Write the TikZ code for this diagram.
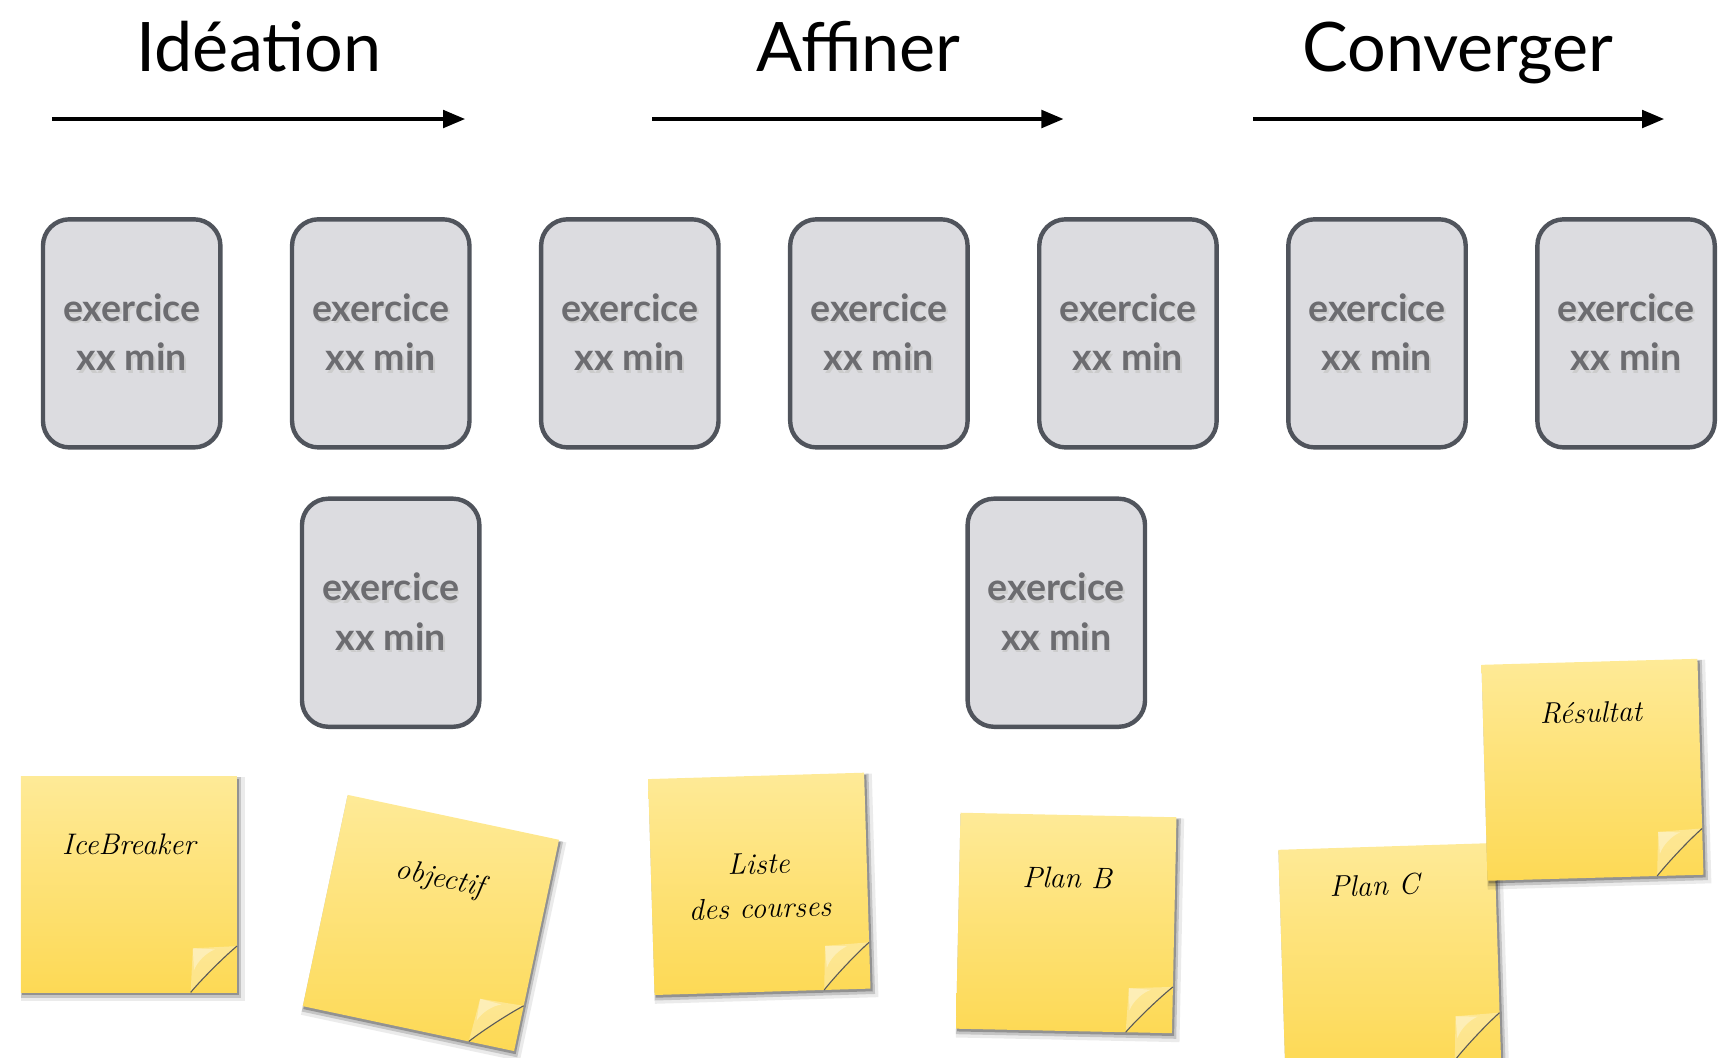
\documentclass[tikz,border=0pt]{standalone}
\usepackage{fontspec}
\newfontfamily\gillfont{Lato}
\usetikzlibrary{arrows.meta}
\definecolor{boxline}{HTML}{50545C}
\definecolor{boxfill}{HTML}{DCDCE0}
\definecolor{boxtext}{HTML}{6C6C70}
\definecolor{noteTop}{HTML}{FEEA97}
\definecolor{noteBot}{HTML}{FDD955}
\newcommand\shtxt[1]{\makebox[0pt][l]{\hspace{1.5pt}\raisebox{-2.5pt}{\color{black!20}#1}}#1}
\tikzset{
  title/.style={font=\gillfont\fontsize{62}{70}\selectfont, anchor=base, inner sep=0pt},
  phase/.style={line width=3pt, -{Triangle[length=20pt,width=16pt]}},
  exbox/.style={draw=boxline, line width=4pt, fill=boxfill, rounded corners=24pt,
    minimum width=161pt, minimum height=207pt, inner sep=0pt, text=boxtext,
    font=\gillfont\bfseries\fontsize{34}{45}\selectfont, align=center},
  notetext/.style={font=\itshape\fontsize{27}{40}\selectfont, align=center, inner sep=0pt, text=black}
}
\newcommand\stickynote[6]{% name, x, y, angle, text position, text
  \begin{scope}[shift={(#2,#3)}, rotate=#4]
    \fill[black,opacity=.08] (-98,-97) rectangle (105,106);
    \fill[black,opacity=.16] (-98,-97) rectangle (102,103);
    \fill[black,opacity=.26] (-97,-96) rectangle (100,100.5);
    \shade[top color=noteTop, bottom color=noteBot] (-98,-98) rectangle (98,98);
    \fill[white,opacity=.30] (56,98) -- (58,58) -- (98,56) .. controls (86,66) and (66,86) .. cycle;
    \fill[white,opacity=.35] (58,58) -- (78,59) .. controls (70,62) and (62,70) .. (59,78) -- cycle;
    \draw[black!65, line width=1pt] (56,98) .. controls (66,86) and (86,66) .. (98,56);
    \node[notetext, transform shape] (#1) at #5 {#6};
  \end{scope}}
\begin{document}
\begin{tikzpicture}[x=1pt,y=-1pt]
\useasboundingbox (0,0) rectangle (1568,960);
\clip (0,0) rectangle (1568,960);
% titles
\node[title] (t1) at (235,65) {Idéation};
\node[title] (t2) at (779,65) {Affiner};
\node[title] (t3) at (1323,65) {Converger};
% arrows
\coordinate (a1s) at (47,108);  \coordinate (a1e) at (422,108);
\coordinate (a2s) at (592,108); \coordinate (a2e) at (965,108);
\coordinate (a3s) at (1137,108);\coordinate (a3e) at (1510,108);
\draw[phase] (a1s) -- (a1e);
\draw[phase] (a2s) -- (a2e);
\draw[phase] (a3s) -- (a3e);
% exercise boxes
\node[exbox] (b1) at (119.5,302.5) {\shtxt{exercice}\\\shtxt{xx min}};
\node[exbox] (b2) at (345.5,302.5) {\shtxt{exercice}\\\shtxt{xx min}};
\node[exbox] (b3) at (571.5,302.5) {\shtxt{exercice}\\\shtxt{xx min}};
\node[exbox] (b4) at (797.5,302.5) {\shtxt{exercice}\\\shtxt{xx min}};
\node[exbox] (b5) at (1023.5,302.5) {\shtxt{exercice}\\\shtxt{xx min}};
\node[exbox] (b6) at (1249.5,302.5) {\shtxt{exercice}\\\shtxt{xx min}};
\node[exbox] (b7) at (1475.5,302.5) {\shtxt{exercice}\\\shtxt{xx min}};
\node[exbox] (b8) at (354.5,556) {\shtxt{exercice}\\\shtxt{xx min}};
\node[exbox] (b9) at (958.5,556) {\shtxt{exercice}\\\shtxt{xx min}};
% sticky notes
\stickynote{n1}{117}{802.5}{0}{(0,-36)}{IceBreaker}
\stickynote{n2}{391}{837.5}{-12}{(0,-40)}{objectif}
\stickynote{n3}{689}{802}{1.7}{(0,2)}{Liste\\des courses}
\stickynote{n4}{967.5}{837.5}{-1.2}{(0,-41)}{Plan B}
\stickynote{n5}{1261}{866}{1.8}{(-12,-63)}{Plan C}
\stickynote{n6}{1445}{698.5}{1.6}{(0,-52)}{Résultat}
\end{tikzpicture}
\end{document}
